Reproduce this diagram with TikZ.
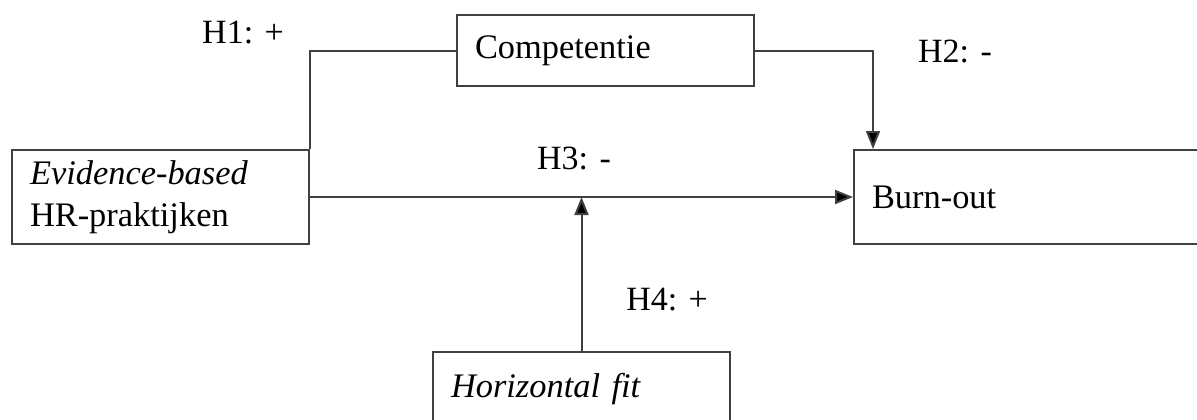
\documentclass[tikz,border=0pt]{standalone}
\usepackage{fontspec}
\setmainfont{Liberation Serif}
\usetikzlibrary{arrows.meta,positioning}
\tikzset{
  kader/.style={draw=black!75, line width=1pt, anchor=north west, align=left,
    inner xsep=9pt, inner ysep=0pt, font=\fontsize{17.2}{21}\selectfont},
  pijl/.style={draw=black!75, line width=1pt, -{Triangle[length=9pt,width=7pt,fill=black]}},
  lijn/.style={draw=black!75, line width=1pt},
  label/.style={font=\fontsize{17}{21}\selectfont, inner sep=0pt}
}
\begin{document}
\begin{tikzpicture}[x=0.5pt,y=-0.5pt]
     \useasboundingbox (0,0) rectangle (1197,419);
     % Vakken
     \node[kader, text width=130.5pt, minimum height=47pt] (ebhr) at (11,149)
          {\textit{Evidence-based}\\HR-praktijken};
     \node[kader, text width=130.5pt, minimum height=35.5pt] (comp) at (456,14) {Competentie};
     \node[kader, text width=162pt, minimum height=47pt] (burn) at (853,149) {Burn-out};
     \node[kader, text width=130.5pt, minimum height=37pt] (hfit) at (432,351) {\textit{Horizontal fit}};
     % Pijlen
     \coordinate (knik) at ([xshift=10pt]burn.north west);
     \draw[lijn] (ebhr.north east) |- (comp.west);
     \draw[pijl] (comp.east) -| (knik);
     \draw[pijl] (ebhr.east) -- (burn.west);
     \draw[pijl] (hfit.north) -- (hfit.north |- ebhr.east);
     % Hypothesen
     \node[label] (h1) at (243,33) {H1: +};
     \node[label] (h2) at (955,51) {H2: -};
     \node[label] (h3) at (574,158) {H3: -};
     \node[label] (h4) at (667,300) {H4: +};
\end{tikzpicture}
\end{document}
